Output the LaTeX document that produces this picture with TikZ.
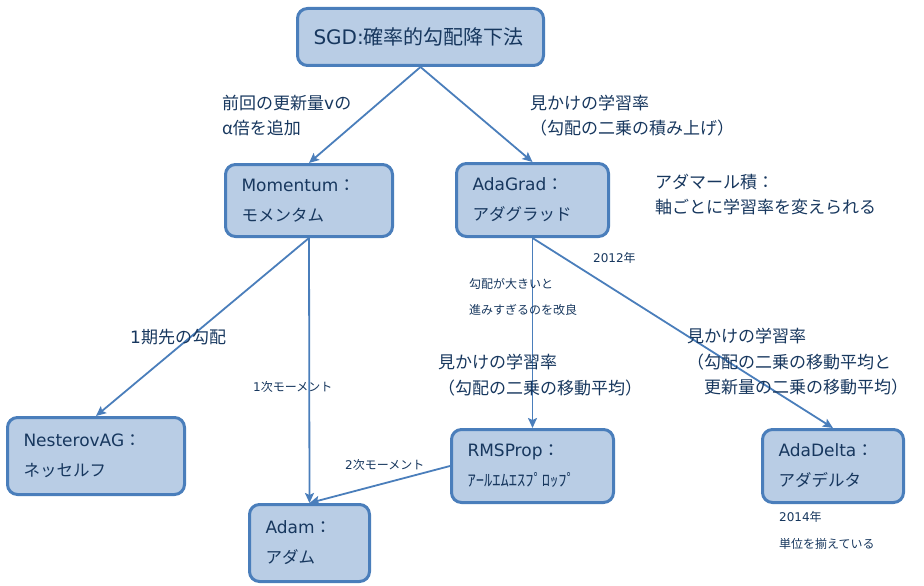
\documentclass[tikz,border=0pt]{standalone}
\usepackage{fontspec}
\setmainfont{Noto Sans CJK JP}
\newfontfamily\lat{DejaVu Sans}
\newcommand\katak[1]{{\fontsize{16.5}{30}\selectfont #1}}
\usetikzlibrary{arrows.meta}
\definecolor{boxfill}{RGB}{185,205,229}
\definecolor{boxline}{RGB}{74,126,187}
\definecolor{txt}{RGB}{23,55,94}
\begin{document}
\begin{tikzpicture}[x=1pt,y=-1pt,
  box/.style={draw=boxline, line width=3pt, fill=boxfill, rounded corners=10pt, anchor=north west, align=left, inner xsep=16pt, inner ysep=0pt, text=txt, font=\fontsize{17}{30}\selectfont},
  arr/.style={draw=boxline, line width=1.8pt, -{Stealth[length=10pt,width=9pt,inset=2pt]}},
  lab/.style={text=txt, anchor=west, align=left, inner sep=0pt, font=\fontsize{17}{25.5}\selectfont},
  sm/.style={text=txt, anchor=west, align=left, inner sep=0pt, font=\fontsize{12}{26.5}\selectfont}]
\useasboundingbox (0,0) rectangle (924,586);
% boxes
\node[box, text width=214pt, minimum height=57pt, font=\fontsize{20}{24}\selectfont] (sgd) at (296,7) {{\lat SGD:}確率的勾配降下法};
\node[box, text width=135pt, minimum height=72pt] (mom) at (224,163) {{\lat Momentum}：\\\katak{モメンタム}};
\node[box, text width=120pt, minimum height=73pt] (ag) at (455,162) {{\lat AdaGrad}：\\\katak{アダグラッド}};
\node[box, text width=145pt, minimum height=77pt] (nes) at (6,416) {{\lat NesterovAG}：\\\katak{ネッセルフ}};
\node[box, text width=88pt, minimum height=77pt] (adam) at (248,503) {{\lat Adam}：\\\katak{アダム}};
\node[box, text width=130pt, minimum height=73pt] (rms) at (450,428) {{\lat RMSProp}：\\\katak{ｱｰﾙｴﾑｴｽﾌﾟﾛｯﾌﾟ}};
\node[box, text width=109pt, minimum height=73pt] (ad) at (761,428) {{\lat AdaDelta}：\\\katak{アダデルタ}};
% connectors
\draw[arr] (sgd.south) -- (mom.north);
\draw[arr] (sgd.south) -- (ag.north);
\draw[arr] (mom.south) -- (nes.north);
\draw[arr] (mom.south) -- (adam.north);
\draw[arr] (ag.south) -- (rms.north);
\draw[arr] (ag.south) -- (ad.north);
\draw[arr] (rms.west) -- (adam.north);
% labels
\node[lab] (l1) at (222,115.5) {前回の更新量{\lat v}の\\α倍を追加};
\node[lab] (l2) at (530,115.5) {見かけの学習率\\（勾配の二乗の積み上げ）};
\node[lab] (l3) at (655,194.5) {アダマール積：\\軸ごとに学習率を変えられる};
\node[sm] (l4) at (593,258) {{\lat 2012}年};
\node[sm] (l5) at (469,297) {勾配が大きいと\\進みすぎるのを改良};
\node[lab] (l6) at (438,375) {見かけの学習率\\（勾配の二乗の移動平均）};
\node[lab] (l7) at (687,362) {見かけの学習率\\（勾配の二乗の移動平均と\\　更新量の二乗の移動平均）};
\node[lab] (l8) at (130,337) {{\lat 1}期先の勾配};
\node[sm] (l9) at (253,387) {{\lat 1}次モーメント};
\node[sm] (l10) at (345,465) {{\lat 2}次モーメント};
\node[sm] (l11) at (779,530.5) {{\lat 2014}年\\単位を揃えている};
\end{tikzpicture}
\end{document}
